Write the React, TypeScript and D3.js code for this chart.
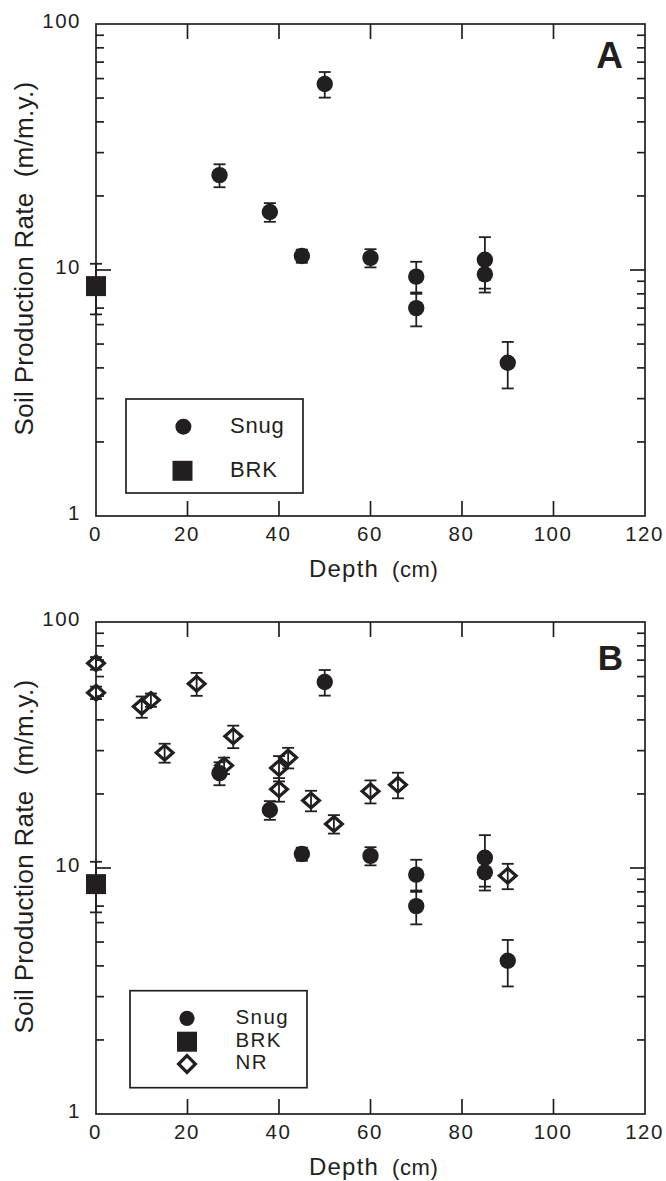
import React from 'react';
import * as d3 from 'd3';

// ---- Data (depth in cm, soil production rate in m/m.y., ±error) ----
const snugDepth = [27, 38, 50, 45, 60, 70, 70, 85, 85, 90];
const snugRate = [24.3, 17.2, 57, 11.4, 11.2, 9.4, 7.0, 11.0, 9.6, 4.2];
const snugErr = [2.6, 1.5, 6.8, 0.7, 0.95, 1.4, 1.1, 2.6, 1.5, 0.9];

const brkDepth = [0];
const brkRate = [8.6];
const brkErr = [2.0];

const nrDepth = [0, 0, 10, 12, 15, 22, 30, 28, 40, 40, 42, 47, 52, 60, 66, 90];
const nrRate = [68, 51.6, 45.3, 48.2, 29.4, 56.1, 34.3, 26.1, 25.5, 20.9, 28.1, 18.8, 15.1, 20.5, 21.8, 9.3];
const nrErr = [4, 3, 4.5, 3, 2.6, 6, 3.6, 2, 3, 2.3, 2.7, 1.8, 1.3, 2.2, 2.6, 1.1];

const xTicks = [0, 20, 40, 60, 80, 100, 120];
const yMajor = [1, 10, 100];

const FONT = "'Liberation Sans', Arial, Helvetica, sans-serif";
const INK = '#231f20';

type PanelProps = {
  top: number;
  bottom: number;
  letter: string;
  letterSize: number;
  letterBase: number;
  showNR: boolean;
};

function ErrBar({ x, y0, y1 }: { x: number; y0: number; y1: number }) {
  const cw = 6;
  return (
    <g stroke={INK} strokeWidth={1.8}>
      <line x1={x} x2={x} y1={y0} y2={y1} />
      <line x1={x - cw} x2={x + cw} y1={y0} y2={y0} />
      <line x1={x - cw} x2={x + cw} y1={y1} y2={y1} />
    </g>
  );
}

function Diamond({ cx, cy, w = 20, h = 18, fill = 'none' }: { cx: number; cy: number; w?: number; h?: number; fill?: string }) {
  const i = 1.6;
  const p = `M${cx},${cy - h / 2 + i}L${cx + w / 2 - i},${cy}L${cx},${cy + h / 2 - i}L${cx - w / 2 + i},${cy}Z`;
  return <path d={p} fill={fill} stroke={INK} strokeWidth={3.2} strokeLinejoin="miter" />;
}

function Panel({ top, bottom, letter, letterSize, letterBase, showNR }: PanelProps) {
  const left = 96;
  const right = 645;
  const x = d3.scaleLinear().domain([0, 120]).range([left, right]);
  const y = d3.scaleLog().domain([1, 100]).range([bottom, top]);
  const minor = y.ticks().filter((v) => !yMajor.includes(v));
  const midY = (top + bottom) / 2 - 11.5;

  return (
    <g>
      {/* frame */}
      <rect x={left} y={top} width={right - left} height={bottom - top} fill="none" stroke={INK} strokeWidth={1.7} />
      {/* x ticks top & bottom (inward) */}
      {xTicks.slice(1, -1).map((t) => (
        <g key={'xt' + t} stroke={INK} strokeWidth={1.7}>
          <line x1={x(t)} x2={x(t)} y1={bottom} y2={bottom - 15} />
          <line x1={x(t)} x2={x(t)} y1={top} y2={top + 15} />
        </g>
      ))}
      {/* y minor ticks */}
      {minor.map((v) => (
        <g key={'ym' + v} stroke={INK} strokeWidth={1.7}>
          <line x1={left} x2={left + 8} y1={y(v)} y2={y(v)} />
          <line x1={right} x2={right - 8} y1={y(v)} y2={y(v)} />
        </g>
      ))}
      {/* y major tick at 10 */}
      <g stroke={INK} strokeWidth={1.7}>
        <line x1={left} x2={left + 15} y1={y(10)} y2={y(10)} />
        <line x1={right} x2={right - 15} y1={y(10)} y2={y(10)} />
      </g>
      {/* tick labels */}
      {xTicks.map((t) => (
        <text key={'xl' + t} x={x(t) - 0.5} y={bottom + 24.5} textAnchor="middle" fontFamily={FONT} fontSize={20.5} letterSpacing={1.5} fill={INK}>
          {t}
        </text>
      ))}
      {yMajor.map((v) => (
        <text key={'yl' + v} x={81} y={y(v) + 3.8} textAnchor="end" fontFamily={FONT} fontSize={20.5} letterSpacing={1.5} fill={INK}>
          {v}
        </text>
      ))}
      {/* axis titles */}
      <text x={309} y={bottom + 60.7} fontFamily={FONT} fill={INK}>
        <tspan fontSize={24} letterSpacing={1.2}>Depth</tspan>
        <tspan x={392} fontSize={22} letterSpacing={0.6}>(cm)</tspan>
      </text>
      <text
        transform={`translate(33,${midY}) rotate(-90)`}
        textAnchor="middle"
        fontFamily={FONT}
        fontSize={26}
        letterSpacing={0.3}
        fill={INK}
        style={{ whiteSpace: 'pre' }}
      >
        {'Soil Production Rate  (m/m.y.)'}
      </text>
      {/* panel letter */}
      <text x={623} y={letterBase} textAnchor="end" fontFamily={FONT} fontWeight="bold" fontSize={letterSize} fill={INK}>
        {letter}
      </text>

      {/* NR */}
      {showNR &&
        nrDepth.map((d, i) => (
          <g key={'nr' + i}>
            <Diamond cx={x(d)} cy={y(nrRate[i])} />
            <ErrBar x={x(d)} y0={y(nrRate[i] + nrErr[i])} y1={y(nrRate[i] - nrErr[i])} />
          </g>
        ))}
      {/* Snug */}
      {snugDepth.map((d, i) => (
        <g key={'sn' + i}>
          <ErrBar x={x(d)} y0={y(snugRate[i] + snugErr[i])} y1={y(snugRate[i] - snugErr[i])} />
          <circle cx={x(d)} cy={y(snugRate[i])} r={8.2} fill={INK} />
        </g>
      ))}
      {/* BRK */}
      {brkDepth.map((d, i) => (
        <g key={'brk' + i}>
          <ErrBar x={x(d)} y0={y(brkRate[i] + brkErr[i])} y1={y(brkRate[i] - brkErr[i])} />
          <rect x={x(d) - 10} y={y(brkRate[i]) - 10} width={20} height={20} fill={INK} />
        </g>
      ))}
    </g>
  );
}

export default function App() {
  return (
    <svg
      width={666}
      height={1181}
      viewBox="0 0 666 1181"
      style={{ position: 'absolute', left: 0, top: 0, display: 'block', background: '#fff' }}
    >
      <rect x={0} y={0} width={666} height={1181} fill="#fff" />
      <Panel top={24} bottom={516} letter="A" letterSize={37} letterBase={68} showNR={false} />
      <Panel top={622} bottom={1114} letter="B" letterSize={35} letterBase={670} showNR={true} />

      {/* Legend A */}
      <g>
        <rect x={126} y={399} width={177} height={94} fill="#fff" stroke={INK} strokeWidth={1.7} />
        <circle cx={183.4} cy={426.7} r={8} fill={INK} />
        <text x={230} y={433.3} fontFamily={FONT} fontSize={22} letterSpacing={0.8} fill={INK}>Snug</text>
        <rect x={172.5} y={460.8} width={20} height={20} fill={INK} />
        <text x={230} y={476.7} fontFamily={FONT} fontSize={22} letterSpacing={0.8} fill={INK}>BRK</text>
      </g>

      {/* Legend B */}
      <g>
        <rect x={130} y={990.7} width={177} height={97} fill="#fff" stroke={INK} strokeWidth={1.7} />
        <circle cx={187} cy={1018.3} r={7.6} fill={INK} />
        <text x={235.4} y={1024} fontFamily={FONT} fontSize={20.5} letterSpacing={1.5} fill={INK}>Snug</text>
        <rect x={177} y={1031.7} width={20} height={20} fill={INK} />
        <text x={235.4} y={1046.7} fontFamily={FONT} fontSize={20.5} letterSpacing={1.5} fill={INK}>BRK</text>
        <Diamond cx={187} cy={1064} w={20} h={20} fill="#fff" />
        <text x={235.4} y={1069.3} fontFamily={FONT} fontSize={20.5} letterSpacing={1.5} fill={INK}>NR</text>
      </g>
    </svg>
  );
}
